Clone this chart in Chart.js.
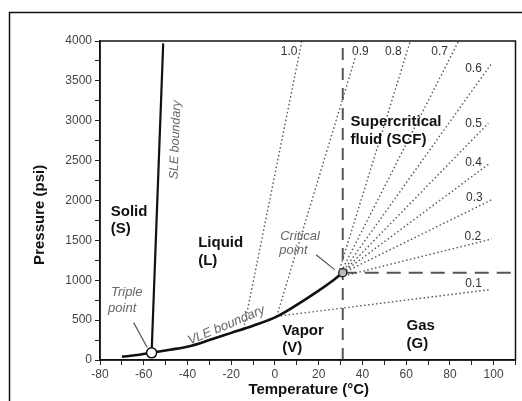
<!DOCTYPE html>
<html lang="en">
<head>
<meta charset="UTF-8">
<title>CO2 phase diagram</title>
<script src="https://cdn.jsdelivr.net/npm/chart.js@4"></script>
<style>
  html, body { margin:0; padding:0; background:#fff; }
  canvas { display:block; }
</style>
</head>
<body>
<canvas id="phase" width="522" height="401"></canvas>
<script>
  // axes
  const xMin = -80, xMax = 110, xStep = 10, xLabelStep = 20, xLastLabel = 100;
  const yMin = 0, yMax = 4000, yStep = 250, yLabelStep = 500;

  // phase boundaries (T in °C, P in psi)
  const vleT = [-70, -63, -56.4, -48, -39, -30, -20, -10, 1, 10, 20, 27, 31];
  const vleP = [40, 62, 90, 128, 173, 250, 340, 430, 548, 692, 870, 1007, 1095];
  const sleT = [-56.4, -51.1];
  const sleP = [90, 3970];

  // special points
  const tripleT = [-56.4], tripleP = [90];
  const criticalT = [31], criticalP = [1095];

  // isochores (density g/mL): start and end of each dotted line
  const densities = ['0.1', '0.2', '0.3', '0.4', '0.5', '0.6', '0.7', '0.8', '0.9', '1.0'];
  const isoT0 = [0.8, 28, 31, 31, 31, 30.3, 29.5, 28.5, 0.8, -14.3];
  const isoP0 = [548, 1030, 1090, 1095, 1095, 1080, 1065, 1040, 548, 390];
  const isoT1 = [98.2, 99.1, 99.1, 98.3, 97.6, 99.1, 84, 61.9, 36.6, 12.3];
  const isoP1 = [882, 1517, 2009, 2468, 2969, 3720, 4000, 4000, 3782, 4000];

  const pts = (ts, ps) => ts.map((t, i) => ({ x: t, y: ps[i] }));

  const datasets = [];
  datasets.push({ data: pts(tripleT, tripleP), pointRadius: 5, pointBackgroundColor: '#fff',
    pointBorderColor: '#111', pointBorderWidth: 1.5, order: 0 });
  datasets.push({ data: pts(criticalT, criticalP), pointRadius: 4, pointBackgroundColor: '#bbb',
    pointBorderColor: '#222', pointBorderWidth: 1.3, order: 0 });
  datasets.push({ data: pts(vleT, vleP), showLine: true, pointRadius: 0, borderColor: '#111',
    borderWidth: 2.6, cubicInterpolationMode: 'monotone', order: 1 });
  datasets.push({ data: pts(sleT, sleP), showLine: true, pointRadius: 0, borderColor: '#111',
    borderWidth: 2.2, order: 1 });
  // critical temperature / pressure
  datasets.push({ data: pts([criticalT[0], criticalT[0]], [yMin, yMax]), showLine: true, pointRadius: 0,
    borderColor: '#555', borderWidth: 2, borderDash: [12, 8], order: 2 });
  datasets.push({ data: pts([criticalT[0], xMax], [criticalP[0], criticalP[0]]), showLine: true, pointRadius: 0,
    borderColor: '#555', borderWidth: 2, borderDash: [14, 8], order: 2 });
  densities.forEach((d, i) => {
    datasets.push({ data: pts([isoT0[i], isoT1[i]], [isoP0[i], isoP1[i]]), showLine: true, pointRadius: 0,
      borderColor: '#555', borderWidth: 1.4, borderDash: [1.5, 2.5], order: 3 });
  });

  // annotation text, anchored in data coordinates
  const FONT = '"Liberation Sans", Arial, sans-serif';
  const notes = [
    { t: 'Solid', x: -75.1, y: 1862, font: 'bold 15px', color: '#111' },
    { t: '(S)', x: -75.1, y: 1646, font: 'bold 15px', color: '#111' },
    { t: 'Liquid', x: -35.1, y: 1470, font: 'bold 15px', color: '#111' },
    { t: '(L)', x: -35.1, y: 1239, font: 'bold 15px', color: '#111' },
    { t: 'Vapor', x: 3.3, y: 369, font: 'bold 15px', color: '#111' },
    { t: '(V)', x: 3.3, y: 156, font: 'bold 15px', color: '#111' },
    { t: 'Gas', x: 60.2, y: 432, font: 'bold 15px', color: '#111' },
    { t: '(G)', x: 60.2, y: 206, font: 'bold 15px', color: '#111' },
    { t: 'Supercritical', x: 34.6, y: 2989, font: 'bold 15px', color: '#111' },
    { t: 'fluid (SCF)', x: 34.6, y: 2760, font: 'bold 15px', color: '#111' },
    { t: 'Triple', x: -75, y: 845, font: 'italic 13px', color: '#666' },
    { t: 'point', x: -76.3, y: 645, font: 'italic 13px', color: '#666' },
    { t: 'Critical', x: 2.4, y: 1546, font: 'italic 13px', color: '#666' },
    { t: 'point', x: 2, y: 1370, font: 'italic 13px', color: '#666' },
    { t: 'SLE boundary', x: -45.5, y: 2760, font: 'italic 12.5px', color: '#666', rot: -88 },
    { t: 'VLE boundary', x: -22.2, y: 434, font: 'italic 13px', color: '#666', rot: -23 }
  ];
  const densLabelT = [90.8, 90.5, 91.2, 90.8, 90.8, 90.8, 75.3, 54.1, 39.1, 6.5];
  const densLabelP = [957, 1549, 2040, 2478, 2957, 3657, 3861, 3861, 3861, 3861];
  const arrows = [
    { x0: -64.6, y0: 469, x1: -58.4, y1: 156 },
    { x0: 18.8, y0: 1320, x1: 27.3, y1: 1133 }
  ];

  const overlay = {
    id: 'overlay',
    beforeDraw(chart) {
      const ctx = chart.ctx;
      ctx.save();
      ctx.fillStyle = '#fff';
      ctx.fillRect(0, 0, chart.width, chart.height);
      // outer frame of the figure
      ctx.strokeStyle = '#111';
      ctx.lineWidth = 1.5;
      ctx.beginPath();
      ctx.moveTo(9.5, chart.height + 2);
      ctx.lineTo(9.5, 12.5);
      ctx.lineTo(chart.width + 2, 12.5);
      ctx.stroke();
      ctx.restore();
    },
    afterDraw(chart) {
      const { ctx, chartArea: a, scales: { x, y } } = chart;
      ctx.save();
      // plot box
      ctx.strokeStyle = '#111';
      ctx.lineWidth = 1.5;
      ctx.strokeRect(a.left, a.top, a.right - a.left, a.bottom - a.top);

      // arrows
      ctx.strokeStyle = '#555';
      ctx.lineWidth = 1.2;
      arrows.forEach(r => {
        ctx.beginPath();
        ctx.moveTo(x.getPixelForValue(r.x0), y.getPixelForValue(r.y0));
        ctx.lineTo(x.getPixelForValue(r.x1), y.getPixelForValue(r.y1));
        ctx.stroke();
      });

      // text notes
      ctx.textBaseline = 'middle';
      notes.forEach(n => {
        ctx.font = n.font + ' ' + FONT;
        ctx.fillStyle = n.color;
        const px = x.getPixelForValue(n.x), py = y.getPixelForValue(n.y);
        if (n.rot) {
          ctx.save();
          ctx.translate(px, py);
          ctx.rotate(n.rot * Math.PI / 180);
          ctx.textAlign = 'center';
          ctx.fillText(n.t, 0, 0);
          ctx.restore();
        } else {
          ctx.textAlign = 'left';
          ctx.fillText(n.t, px, py);
        }
      });

      // density labels
      ctx.font = '12px ' + FONT;
      ctx.fillStyle = '#333';
      ctx.textAlign = 'center';
      densities.forEach((d, i) => {
        ctx.fillText(d, x.getPixelForValue(densLabelT[i]), y.getPixelForValue(densLabelP[i]));
      });

      // axis titles
      ctx.fillStyle = '#111';
      ctx.font = 'bold 15px ' + FONT;
      ctx.fillText('Temperature (°C)', (a.left + a.right) / 2 + 1, a.bottom + 30);
      ctx.save();
      ctx.translate(a.left - 60, y.getPixelForValue(1820));
      ctx.rotate(-Math.PI / 2);
      ctx.fillText('Pressure (psi)', 0, 0);
      ctx.restore();
      ctx.restore();
    }
  };

  new Chart(document.getElementById('phase'), {
    type: 'scatter',
    data: { datasets },
    options: {
      responsive: false,
      animation: false,
      events: [],
      layout: { padding: { left: 0, top: 41, right: 4, bottom: 0 } },
      plugins: { legend: { display: false }, tooltip: { enabled: false } },
      scales: {
        x: {
          type: 'linear', min: xMin, max: xMax,
          afterFit(s) { s.height = 41; },
          grid: { drawOnChartArea: false, drawTicks: true, tickLength: 5, color: '#222' },
          border: { display: true, color: '#111', width: 1.5 },
          ticks: {
            stepSize: xStep, autoSkip: false, maxRotation: 0, padding: 2,
            color: '#444', font: { family: FONT, size: 12 },
            callback: v => (v % xLabelStep === 0 && v <= xLastLabel) ? String(v) : ''
          }
        },
        y: {
          type: 'linear', min: yMin, max: yMax,
          afterFit(s) { s.width = 100; },
          grid: { drawOnChartArea: false, drawTicks: true, tickLength: 5, color: '#222' },
          border: { display: true, color: '#111', width: 1.5 },
          ticks: {
            stepSize: yStep, autoSkip: false, padding: 3,
            color: '#444', font: { family: FONT, size: 12 },
            callback: v => (v % yLabelStep === 0) ? String(v) : ''
          }
        }
      }
    },
    plugins: [overlay]
  });
</script>
</body>
</html>
